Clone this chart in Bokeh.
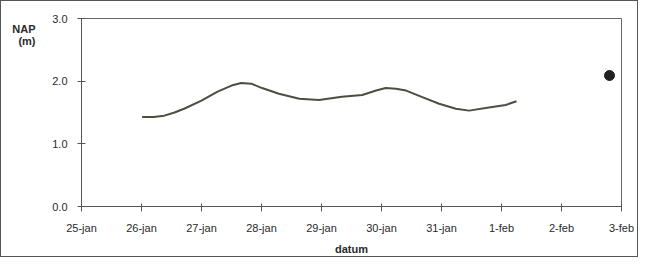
from bokeh.plotting import figure
from bokeh.models import Range1d, FixedTicker, LinearAxis
from bokeh.embed import file_html
from bokeh.resources import INLINE

# days since 25-jan
days = [1.01, 1.20, 1.38, 1.55, 1.71, 2.00, 2.26, 2.50, 2.66, 2.83, 3.01, 3.29, 3.63, 3.96,
        4.34, 4.68, 4.91, 5.07, 5.24, 5.41, 5.67, 5.96, 6.24, 6.46, 6.79, 7.07, 7.25]
nap = [1.43, 1.43, 1.45, 1.50, 1.56, 1.69, 1.83, 1.93, 1.97, 1.96, 1.89, 1.80, 1.72, 1.70,
       1.75, 1.78, 1.85, 1.89, 1.88, 1.85, 1.75, 1.64, 1.56, 1.53, 1.58, 1.62, 1.68]
point_day = [8.80]
point_nap = [2.09]
x_ticks = [0, 1, 2, 3, 4, 5, 6, 7, 8, 9]
x_labels = ["25-jan", "26-jan", "27-jan", "28-jan", "29-jan", "30-jan", "31-jan", "1-feb", "2-feb", "3-feb"]
y_ticks = [0, 1, 2, 3]
y_labels = ["0.0", "1.0", "2.0", "3.0"]
unit_pos = [2.84, 2.64]
unit_text = ["NAP", "(m)"]

FONT = "Liberation Sans"
TXT = "#2a2a2a"
AX = "#555555"

p = figure(width=638, height=257, output_backend="svg", toolbar_location=None,
           x_range=Range1d(0, 9), y_range=Range1d(0, 3),
           min_border_left=80, min_border_right=18, min_border_top=17, min_border_bottom=52)
p.styles = {"border": "1px solid #555555", "box-sizing": "border-box"}
p.background_fill_color = "white"
p.border_fill_color = "white"
p.outline_line_color = "#666666"
p.outline_line_width = 1
p.xgrid.visible = False
p.ygrid.visible = False

p.line(days, nap, line_color="#4a5040", line_width=2, line_join="round")
p.scatter(point_day, point_nap, size=10, color="#222222")

xa = p.xaxis[0]
xa.ticker = FixedTicker(ticks=x_ticks)
xa.major_label_overrides = {t: l for t, l in zip(x_ticks, x_labels)}
xa.axis_label = "datum"
xa.axis_label_text_font = FONT
xa.axis_label_text_font_style = "bold"
xa.axis_label_text_font_size = "11px"
xa.axis_label_text_color = TXT
xa.axis_label_standoff = 6
xa.major_label_text_font = FONT
xa.major_label_text_font_size = "11px"
xa.major_label_text_color = TXT
xa.major_label_standoff = 10
xa.major_tick_in = 3
xa.major_tick_out = 5
xa.minor_tick_line_color = None
xa.axis_line_color = AX
xa.major_tick_line_color = AX

ya = p.yaxis[0]
ya.ticker = FixedTicker(ticks=y_ticks)
ya.major_label_overrides = {t: l for t, l in zip(y_ticks, y_labels)}
ya.major_label_text_font = FONT
ya.major_label_text_font_size = "11px"
ya.major_label_text_color = TXT
ya.major_label_standoff = 10
ya.major_tick_in = 4
ya.major_tick_out = 4
ya.minor_tick_line_color = None
ya.axis_line_color = AX
ya.major_tick_line_color = AX

# unit caption "NAP (m)" as an extra, line-less axis on the left
ua = LinearAxis(ticker=FixedTicker(ticks=unit_pos),
                major_label_overrides={t: l for t, l in zip(unit_pos, unit_text)})
ua.axis_line_color = None
ua.major_tick_line_color = None
ua.minor_tick_line_color = None
ua.major_tick_in = 0
ua.major_tick_out = 0
ua.major_label_standoff = 14
ua.major_label_text_font = FONT
ua.major_label_text_font_style = "bold"
ua.major_label_text_font_size = "11px"
ua.major_label_text_color = TXT
p.add_layout(ua, "left")

open("out.html", "w").write(file_html(p, INLINE))
